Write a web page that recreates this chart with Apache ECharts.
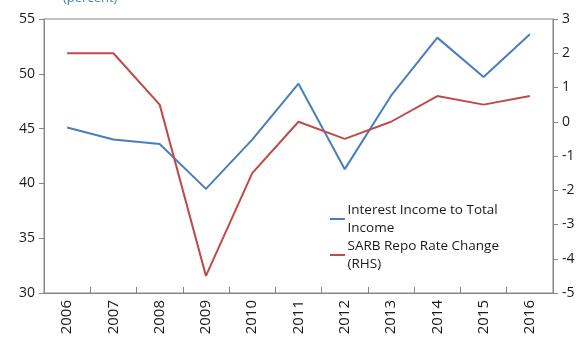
<!DOCTYPE html>
<html>
<head>
<meta charset="utf-8">
<script src="https://cdn.jsdelivr.net/npm/echarts@6/dist/echarts.min.js"></script>
<style>
  html, body { margin: 0; padding: 0; background: #fff; }
  #chart { width: 582px; height: 343px; }
</style>
</head>
<body>
<div id="chart"></div>
<script>
const years = ['2006','2007','2008','2009','2010','2011','2012','2013','2014','2015','2016'];
const interestIncome = [45.1, 44.0, 43.6, 39.5, 44.0, 49.1, 41.3, 48.0, 53.3, 49.7, 53.6];
const repoChange = [2.0, 2.0, 0.5, -4.5, -1.5, 0.0, -0.5, 0.0, 0.75, 0.5, 0.75];
const seriesNames = ['Interest Income to Total Income', 'SARB Repo Rate Change (RHS)'];
const legendLabels = {
  'Interest Income to Total Income': 'Interest Income to Total\nIncome',
  'SARB Repo Rate Change (RHS)': 'SARB Repo Rate Change\n(RHS)'
};

const FONT = '"Open Sans", "DejaVu Sans", sans-serif';
const axisColor = '#868686';
const chart = echarts.init(document.getElementById('chart'), null, { renderer: 'canvas' });

chart.setOption({
  backgroundColor: '#ffffff',
  animation: false,
  title: {
    text: '(percent)',
    left: 58,
    top: -13,
    textStyle: { color: '#4a7ebb', fontSize: 13, fontWeight: 'normal', fontFamily: FONT }
  },
  grid: {
    left: 44, right: 29, top: 19, bottom: 50,
    show: true, borderColor: axisColor, borderWidth: 1, backgroundColor: 'transparent'
  },
  legend: {
    orient: 'vertical',
    left: 325,
    top: 187,
    itemWidth: 16,
    itemHeight: 2,
    itemGap: -18,
    icon: 'path://M0,0L15,0L15,2L0,2Z',
    data: seriesNames,
    formatter: function (name) { return legendLabels[name]; },
    textStyle: {
      fontFamily: FONT, fontSize: 13.5, color: '#1a1a1a', lineHeight: 18,
      padding: [18, 0, 0, -3]
    }
  },
  xAxis: {
    type: 'category',
    data: years,
    boundaryGap: true,
    axisLine: { show: true, onZero: false, lineStyle: { color: axisColor, width: 1 } },
    axisTick: { show: true, inside: true, length: 6, alignWithLabel: false, lineStyle: { color: axisColor } },
    axisLabel: { rotate: 90, margin: 7, fontSize: 15, color: '#1a1a1a', fontFamily: FONT },
    splitLine: { show: false }
  },
  yAxis: [
    {
      type: 'value', min: 30, max: 55, interval: 5, position: 'left',
      axisLine: { show: true, lineStyle: { color: axisColor, width: 1 } },
      axisTick: { show: true, length: 5, lineStyle: { color: axisColor } },
      axisLabel: { margin: 9, fontSize: 14, color: '#1a1a1a', fontFamily: FONT },
      splitLine: { show: false }
    },
    {
      type: 'value', min: -5, max: 3, interval: 1, position: 'right',
      axisLine: { show: true, lineStyle: { color: axisColor, width: 1 } },
      axisTick: { show: true, length: 5, lineStyle: { color: axisColor } },
      axisLabel: { margin: 9, fontSize: 14, color: '#1a1a1a', fontFamily: FONT },
      splitLine: { show: false }
    }
  ],
  series: [
    {
      name: seriesNames[0], type: 'line', yAxisIndex: 0, data: interestIncome,
      symbol: 'none', lineStyle: { color: '#4a7ebb', width: 2 }, itemStyle: { color: '#4a7ebb' }
    },
    {
      name: seriesNames[1], type: 'line', yAxisIndex: 1, data: repoChange,
      symbol: 'none', lineStyle: { color: '#be4b48', width: 2 }, itemStyle: { color: '#be4b48' }
    }
  ]
});
</script>
</body>
</html>
